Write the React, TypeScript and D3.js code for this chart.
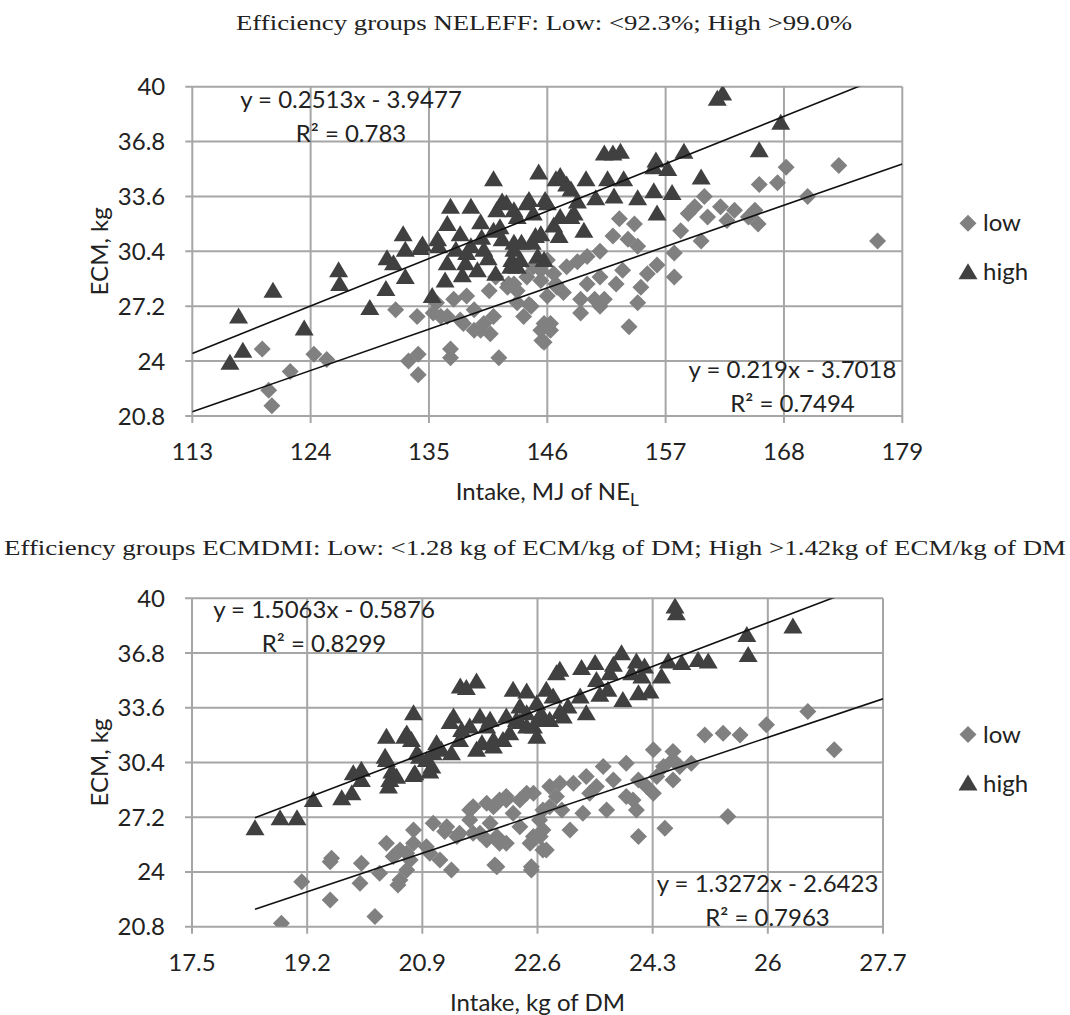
import * as d3 from 'd3';

// axis ticks
const ecmTicks = [20.8, 24, 27.2, 30.4, 33.6, 36.8, 40];
const neleffTicks = [113, 124, 135, 146, 157, 168, 179];
const ecmdmiTicks = [17.5, 19.2, 20.9, 22.6, 24.3, 26, 27.7];

// NELEFF groups: [intake MJ NEL, ECM kg]
const neleffLow: [number, number][] = [
  [119.5, 24.7], [120.1, 22.3], [120.4, 21.4], [122.1, 23.4], [124.3, 24.4], [125.5, 24.1],
  [131.9, 27.0], [133.9, 26.6], [133.1, 24.0], [134.0, 24.4], [134.0, 23.2], [137.0, 24.7],
  [137.0, 24.2], [141.5, 24.2], [135.4, 26.8], [137.3, 27.6], [136.7, 26.6], [137.9, 26.4],
  [139.2, 27.0], [139.2, 25.8], [140.1, 26.2], [140.7, 25.6], [141.0, 26.6], [140.6, 28.1],
  [142.3, 28.3], [143.2, 27.4], [144.5, 27.2], [145.4, 25.8], [145.7, 25.1], [146.3, 26.2],
  [146.0, 27.8], [145.4, 28.7], [135.7, 27.4], [136.1, 26.6], [138.5, 27.8], [138.2, 26.2],
  [139.8, 25.8], [141.2, 28.9], [142.4, 28.5], [143.8, 26.6], [146.8, 28.5], [144.7, 29.5],
  [146.0, 29.9], [146.6, 29.1], [143.2, 28.1], [173.1, 35.4], [168.2, 35.3], [165.7, 34.3],
  [167.4, 34.4], [170.2, 33.6], [176.7, 31.0], [165.6, 32.0], [164.7, 32.4], [165.3, 32.8],
  [163.4, 32.8], [162.1, 33.0], [162.7, 32.2], [160.6, 33.6], [159.7, 33.0], [159.1, 32.6],
  [160.9, 32.4], [160.3, 31.0], [158.4, 31.6], [157.8, 30.3], [156.2, 29.6], [157.8, 28.9],
  [155.3, 29.1], [154.7, 28.3], [154.4, 27.4], [153.6, 26.0], [154.1, 32.0], [152.7, 32.3],
  [152.1, 31.3], [153.5, 31.1], [154.4, 30.7], [150.9, 30.4], [149.7, 30.1], [148.8, 29.8],
  [147.8, 29.5], [145.4, 29.3], [144.1, 28.9], [142.9, 28.5], [146.9, 28.3], [149.7, 28.5],
  [150.9, 28.9], [149.1, 27.6], [150.4, 27.6], [151.3, 27.6], [149.1, 26.8], [150.9, 27.2],
  [145.7, 26.2], [146.3, 25.8], [145.5, 25.2], [144.3, 27.3], [147.5, 28.0], [153.0, 29.3],
  [152.4, 28.5],
];
const neleffHigh: [number, number][] = [
  [116.5, 23.9], [117.3, 26.6], [117.7, 24.6], [120.5, 28.1], [123.4, 25.9], [126.6, 29.3],
  [126.7, 28.5], [129.5, 27.1], [131.0, 28.2], [131.1, 30.0], [131.7, 29.7], [132.8, 28.9],
  [132.6, 31.4], [134.2, 30.6], [135.3, 27.8], [135.8, 31.1], [136.5, 28.7], [137.0, 33.0],
  [136.7, 32.0], [137.9, 31.4], [138.9, 33.0], [138.5, 30.3], [139.5, 29.3], [141.0, 34.6],
  [141.3, 32.8], [141.6, 31.8], [142.9, 30.9], [143.2, 29.5], [144.1, 33.2], [145.2, 35.0],
  [145.4, 31.4], [145.7, 29.9], [146.8, 34.6], [141.8, 33.3], [144.3, 33.4], [145.8, 33.4],
  [139.8, 32.1], [141.0, 31.6], [143.2, 32.4], [144.9, 31.3], [146.6, 31.9], [134.4, 30.8],
  [132.8, 30.5], [135.9, 30.7], [137.5, 30.5], [138.9, 30.7], [140.1, 30.5], [141.8, 31.1],
  [143.6, 30.9], [144.6, 30.9], [136.7, 29.7], [138.4, 29.7], [142.7, 29.9], [138.1, 29.0],
  [141.2, 29.1], [145.1, 30.1], [140.5, 30.0], [139.9, 31.2], [161.8, 39.3], [162.3, 39.6],
  [167.7, 37.9], [165.7, 36.3], [151.3, 36.1], [152.1, 36.1], [152.8, 36.2], [156.1, 35.7],
  [157.2, 35.2], [158.7, 36.2], [160.3, 34.7], [147.2, 34.8], [147.8, 34.3], [149.6, 34.6],
  [151.6, 34.6], [153.1, 34.6], [155.9, 35.3], [155.9, 33.9], [154.4, 33.5], [152.2, 33.6],
  [150.5, 33.5], [148.8, 33.3], [146.0, 33.2], [157.6, 33.8], [156.2, 32.6], [147.2, 32.4],
  [148.5, 32.6], [144.7, 32.6], [142.9, 32.8], [149.4, 31.6], [147.1, 31.3], [142.9, 30.5],
  [143.5, 29.9], [142.6, 29.5], [142.2, 33.2], [148.2, 34.0], [148.2, 32.4],
];

// ECMDMI groups: [intake kg DM, ECM kg]
const ecmdmiLow: [number, number][] = [
  [18.82, 21.0], [19.12, 23.43], [19.54, 22.36], [19.54, 24.6], [19.56, 24.8], [19.98, 23.34],
  [20.0, 24.51], [20.2, 21.39], [20.27, 23.92], [20.37, 25.68], [20.47, 24.9], [20.54, 23.24],
  [20.67, 24.12], [20.67, 25.09], [20.77, 26.46], [20.77, 25.68], [20.57, 25.29], [21.06, 26.85],
  [20.96, 25.48], [21.16, 24.7], [21.26, 26.65], [21.33, 24.12], [21.45, 26.26], [21.6, 27.04],
  [21.65, 27.82], [21.75, 26.26], [21.9, 26.85], [22.0, 26.07], [21.97, 24.41], [21.95, 27.82],
  [22.14, 28.21], [22.24, 27.43], [22.34, 26.65], [22.49, 25.68], [22.51, 24.12], [22.64, 26.07],
  [22.73, 25.29], [22.78, 29.0], [22.68, 27.63], [22.44, 28.6], [22.04, 28.21], [21.85, 28.02],
  [22.88, 28.41], [21.23, 26.36], [21.6, 27.63], [22.0, 28.02], [22.14, 28.41], [21.41, 26.07],
  [21.65, 26.26], [21.85, 25.87], [22.04, 25.68], [20.52, 25.09], [20.72, 24.7], [21.01, 25.09],
  [22.0, 24.31], [20.57, 23.53], [26.59, 33.38], [25.98, 32.6], [26.98, 31.14], [25.59, 32.01],
  [25.34, 32.11], [25.07, 32.01], [25.41, 27.24], [24.31, 31.14], [24.6, 31.04], [24.87, 30.36],
  [24.7, 30.16], [24.46, 30.16], [24.6, 29.38], [24.36, 29.58], [24.21, 29.0], [24.09, 29.38],
  [23.91, 30.36], [23.57, 30.16], [24.01, 28.21], [24.31, 28.6], [24.06, 27.63], [24.09, 26.07],
  [24.48, 26.56], [23.62, 27.63], [23.47, 29.0], [23.32, 29.58], [23.13, 29.19], [22.93, 29.19],
  [23.27, 27.43], [23.08, 26.46], [22.96, 27.63], [22.78, 27.82], [22.63, 27.04], [22.68, 26.46],
  [22.54, 26.07], [22.68, 25.29], [22.51, 24.31], [22.14, 25.68], [22.34, 28.21], [22.54, 28.6],
  [23.37, 28.6], [23.72, 29.38], [23.91, 28.41], [24.6, 30.55],
];
const ecmdmiHigh: [number, number][] = [
  [18.43, 26.56], [18.8, 27.14], [19.05, 27.14], [19.29, 28.21], [19.71, 28.31], [19.86, 28.6],
  [19.88, 29.77], [20.0, 29.97], [20.0, 29.38], [20.37, 31.9], [20.37, 30.55], [20.42, 29.38],
  [20.4, 29.0], [20.52, 29.57], [20.67, 32.1], [20.77, 33.28], [20.74, 31.72], [20.79, 29.77],
  [20.82, 30.94], [20.96, 30.55], [21.04, 30.16], [21.06, 30.94], [21.18, 31.14], [21.36, 33.09],
  [21.33, 30.94], [21.46, 34.84], [21.55, 34.75], [21.7, 35.13], [21.48, 32.3], [21.75, 33.09],
  [21.85, 32.5], [21.78, 31.53], [21.95, 31.72], [22.19, 32.11], [22.24, 34.65], [22.44, 34.55],
  [22.34, 33.67], [22.29, 32.89], [22.14, 33.09], [22.54, 32.5], [22.73, 34.65], [22.68, 33.09],
  [22.88, 35.62], [22.59, 31.91], [22.78, 32.89], [20.64, 31.91], [20.35, 30.74], [20.86, 30.74],
  [21.11, 31.53], [21.45, 31.72], [21.7, 31.14], [21.95, 31.33], [22.09, 31.72], [20.45, 29.87],
  [20.77, 29.67], [21.01, 29.87], [24.63, 39.52], [24.65, 39.13], [25.69, 37.86], [25.71, 36.69],
  [26.37, 38.35], [22.93, 35.82], [23.25, 35.92], [23.45, 36.21], [23.72, 36.11], [23.84, 36.79],
  [24.06, 36.3], [24.18, 36.01], [24.53, 36.3], [24.73, 36.21], [24.97, 36.4], [25.12, 36.3],
  [24.43, 35.43], [22.59, 33.87], [22.83, 34.26], [23.05, 33.67], [23.32, 33.28], [23.23, 34.26],
  [23.47, 35.23], [23.67, 35.62], [23.52, 34.36], [23.64, 34.65], [23.86, 34.06], [24.09, 34.45],
  [24.26, 34.55], [23.99, 35.62], [24.14, 35.43], [22.98, 33.09], [22.68, 32.89], [22.44, 32.5],
  [22.44, 33.28], [21.31, 32.77], [21.6, 32.5], [21.9, 32.9], [22.34, 32.77], [22.64, 33.18],
  [22.93, 33.35],
];

// linear trendlines: [slope, intercept]
const neleffLowFit = [0.219, -3.7018];
const neleffHighFit = [0.2513, -3.9477];
const ecmdmiLowFit = [1.3272, -2.6423];
const ecmdmiHighFit = [1.5063, -0.5876];
const neleffFitRange = [113, 179];
const ecmdmiFitRange = [18.43, 27.7];

const neleffLabels = ['y = 0.2513x - 3.9477', 'R² = 0.783', 'y = 0.219x - 3.7018', 'R² = 0.7494'];
const ecmdmiLabels = ['y = 1.5063x - 0.5876', 'R² = 0.8299', 'y = 1.3272x - 2.6423', 'R² = 0.7963'];

const GRID = '#a6a6a6';
const LOW_COL = '#808080';
const HIGH_COL = '#404040';
const SANS = "Lato, 'Open Sans', sans-serif";
const SERIF = "'Liberation Serif', 'Times New Roman', serif";

const diamond = 'M0,-8.5L8.5,0L0,8.5L-8.5,0Z';
const triangle = 'M0,-9L9.5,7L-9.5,7Z';

function Panel({ id, box, xTicks, low, high, lowFit, highFit, fitRange, labels, hiPos, loPos, xTitle }) {
  const x = d3.scaleLinear().domain([xTicks[0], xTicks[xTicks.length - 1]]).range([box.left, box.right]);
  const y = d3.scaleLinear().domain([20.8, 40]).range([box.bottom, box.top]);
  const line = d3.line<number>().x((v) => x(v));
  const fitPath = (f: number[]) =>
    d3.line<number>().x((v) => x(v)).y((v) => y(f[0] * v + f[1]))(fitRange);
  const midY = (box.top + box.bottom) / 2;
  void line;
  return (
    <g>
      <defs>
        <clipPath id={id}>
          <rect x={box.left} y={box.top} width={box.right - box.left} height={box.bottom - box.top} />
        </clipPath>
      </defs>
      {ecmTicks.map((t) => (
        <g key={'y' + t}>
          <line x1={box.left - 7} x2={box.right} y1={y(t)} y2={y(t)} stroke={GRID} strokeWidth={2} />
          <text x={box.left - 27} y={y(t) + 8.5} textAnchor="end" fontFamily={SANS} fontSize={24} fill="#222">
            {String(t)}
          </text>
        </g>
      ))}
      {xTicks.map((t) => (
        <g key={'x' + t}>
          <line x1={x(t)} x2={x(t)} y1={box.top} y2={box.bottom + 7} stroke={GRID} strokeWidth={2} />
          <text x={x(t)} y={box.bottom + 44} textAnchor="middle" fontFamily={SANS} fontSize={24} fill="#222">
            {String(t)}
          </text>
        </g>
      ))}
      <g clipPath={`url(#${id})`}>
        {low.map((d, i) => (
          <path key={'l' + i} d={diamond} transform={`translate(${x(d[0])},${y(d[1])})`} fill={LOW_COL} />
        ))}
        {high.map((d, i) => (
          <path key={'h' + i} d={triangle} transform={`translate(${x(d[0])},${y(d[1])})`} fill={HIGH_COL} />
        ))}
        <path d={fitPath(highFit) || ''} stroke="#111" strokeWidth={1.6} fill="none" />
        <path d={fitPath(lowFit) || ''} stroke="#111" strokeWidth={1.6} fill="none" />
      </g>
      <g fontFamily={SANS} fontSize={24} fill="#222" textAnchor="middle">
        <text x={hiPos[0]} y={hiPos[1]}>{labels[0]}</text>
        <text x={hiPos[0]} y={hiPos[1] + 34}>{labels[1]}</text>
        <text x={loPos[0]} y={loPos[1]}>{labels[2]}</text>
        <text x={loPos[0]} y={loPos[1] + 34}>{labels[3]}</text>
      </g>
      <text
        transform={`translate(108,${midY}) rotate(-90)`}
        textAnchor="middle"
        fontFamily={SANS}
        fontSize={24}
        fill="#222"
      >
        ECM, kg
      </text>
      <text x={(box.left + box.right) / 2} y={box.bottom + 84} textAnchor="middle" fontFamily={SANS} fontSize={24} fill="#222">
        {xTitle}
      </text>
      <path d={diamond} transform={`translate(968,${midY - 28})`} fill={LOW_COL} />
      <text x={983} y={midY - 20} fontFamily={SANS} fontSize={24} fill="#222">low</text>
      <path d={triangle} transform={`translate(968,${midY + 21})`} fill={HIGH_COL} />
      <text x={983} y={midY + 29} fontFamily={SANS} fontSize={24} fill="#222">high</text>
    </g>
  );
}

export default function App() {
  return (
    <svg width={1070} height={1015} style={{ position: 'absolute', left: 0, top: 0 }}>
      <rect width={1070} height={1015} fill="#fff" />
      <text x={236} y={30} fontFamily={SERIF} fontSize={22} fill="#222" textLength={616} lengthAdjust="spacingAndGlyphs">
        Efficiency groups NELEFF: Low: &lt;92.3%; High &gt;99.0%
      </text>
      <Panel
        id="clipTop"
        box={{ left: 192.3, right: 902.3, top: 86.7, bottom: 416 }}
        xTicks={neleffTicks}
        low={neleffLow}
        high={neleffHigh}
        lowFit={neleffLowFit}
        highFit={neleffHighFit}
        fitRange={neleffFitRange}
        labels={neleffLabels}
        hiPos={[351, 108]}
        loPos={[792.5, 378]}
        xTitle={
          <>
            Intake, MJ of NE<tspan fontSize={17} dy={6}>L</tspan>
          </>
        }
      />
      <text x={4} y={555} fontFamily={SERIF} fontSize={22} fill="#222" textLength={1062} lengthAdjust="spacingAndGlyphs">
        Efficiency groups ECMDMI: Low: &lt;1.28 kg of ECM/kg of DM; High &gt;1.42kg of ECM/kg of DM
      </text>
      <Panel
        id="clipBottom"
        box={{ left: 192, right: 883, top: 598.3, bottom: 926.7 }}
        xTicks={ecmdmiTicks}
        low={ecmdmiLow}
        high={ecmdmiHigh}
        lowFit={ecmdmiLowFit}
        highFit={ecmdmiHighFit}
        fitRange={ecmdmiFitRange}
        labels={ecmdmiLabels}
        hiPos={[324, 618]}
        loPos={[767.5, 891.5]}
        xTitle="Intake, kg of DM"
      />
    </svg>
  );
}
